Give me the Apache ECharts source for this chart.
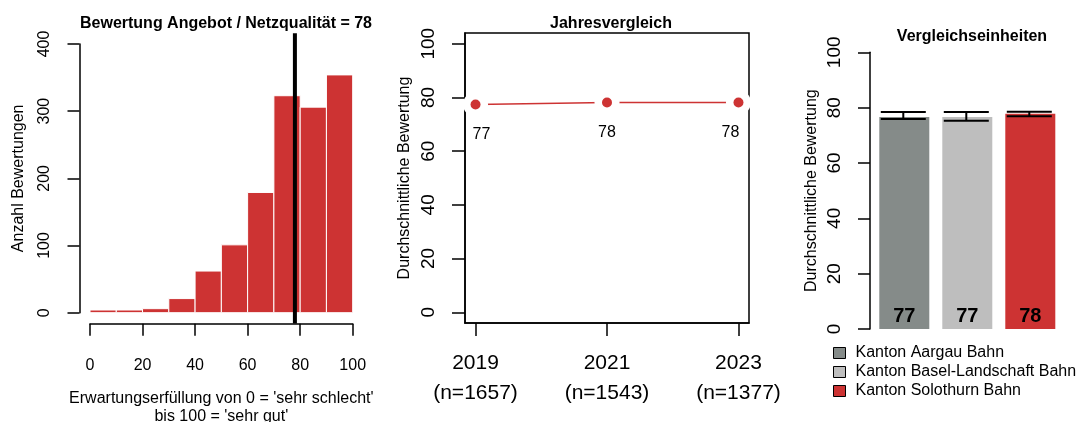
<!DOCTYPE html>
<html>
<head>
<meta charset="utf-8">
<script src="https://cdn.jsdelivr.net/npm/echarts@6/dist/echarts.min.js"></script>
<style>
    html, body { margin: 0; padding: 0; background: #ffffff; }
    #main { width: 1080px; height: 422px; }
</style>
</head>
<body>
<div id="main"></div>
<script>
// Histogramm: Klassen-Startwerte (Breite 10) und Anzahl
var binStarts = [0, 10, 20, 30, 40, 50, 60, 70, 80, 90];
var binCounts = [4, 4, 6, 21, 62, 101, 179, 323, 306, 354];
var meanScore = 78;

// Jahresvergleich
var years = ['2019', '2021', '2023'];
var yearN = [1657, 1543, 1377];
var yearMeans = [77.4, 78.1, 78.1];

// Vergleichseinheiten
var units = ['Kanton Aargau Bahn', 'Kanton Basel-Landschaft Bahn', 'Kanton Solothurn Bahn'];
var unitMeans = [76.6, 76.6, 77.8];
var unitLow = [75.9, 75.3, 76.9];
var unitHigh = [78.4, 78.4, 78.5];
var unitColors = ['#858b89', '#bebebe', '#cd3333'];

var red = '#cd3333';
var font = 'Liberation Sans, Arial, sans-serif';

var myChart = echarts.init(document.getElementById('main'));

// Histogramm-Daten [von, bis, anzahl]
var histData = binStarts.map(function (s, i) { return [s, s + 10, binCounts[i]]; });

// Balken je Einheit als eigene Serie (fuer die Legende)
var unitSeries = units.map(function (name, i) {
    return {
        name: name,
        type: 'bar',
        xAxisIndex: 2,
        yAxisIndex: 2,
        barWidth: 50,
        barGap: '-100%',
        itemStyle: { color: unitColors[i] },
        label: {
            show: true,
            position: 'insideBottom',
            distance: 3,
            color: '#000',
            fontFamily: font,
            fontWeight: 'bold',
            fontSize: 20,
            formatter: function (p) { return Math.round(p.value); }
        },
        data: units.map(function (u, j) { return j === i ? unitMeans[i] : '-'; })
    };
});

// Label-Verschiebung im Jahresvergleich (wie im Original)
var labelShift = [6, 0, -8];

let titleStyle = { fontSize: 16, fontWeight: 'bold', color: '#000', fontFamily: font };

let option = {
    backgroundColor: '#ffffff',
    animation: false,
    textStyle: { fontFamily: font },
    title: [
        { text: 'Bewertung Angebot / Netzqualität = ' + meanScore, left: 221, top: 11, textAlign: 'center', textStyle: titleStyle },
        { text: 'Jahresvergleich', left: 606, top: 11, textAlign: 'center', textStyle: titleStyle },
        { text: 'Vergleichseinheiten', left: 967, top: 24, textAlign: 'center', textStyle: titleStyle }
    ],
    legend: {
        orient: 'vertical',
        left: 828,
        top: 340,
        itemWidth: 12,
        itemHeight: 11,
        itemGap: 3,
        icon: 'rect',
        itemStyle: { borderColor: '#000', borderWidth: 1 },
        textStyle: { fontSize: 16, color: '#000', fontFamily: font, lineHeight: 16, padding: [0, 0, 0, 5] },
        data: units
    },
    grid: [
        { left: 90, top: 44, width: 262.7, height: 268.7, outerBoundsMode: 'none' },
        { left: 465, top: 33, width: 284, height: 290, show: true, borderColor: '#000', borderWidth: 1.5, outerBoundsMode: 'none' },
        { left: 872.8, top: 52.3, width: 189, height: 276.7, outerBoundsMode: 'none' }
    ],
    xAxis: [
        {
            gridIndex: 0, type: 'value', min: 0, max: 100, interval: 20, offset: 11,
            name: "Erwartungserfüllung von 0 = 'sehr schlecht'\nbis 100 = 'sehr gut'",
            nameLocation: 'middle', nameGap: 66,
            nameTextStyle: { fontSize: 16, color: '#000', lineHeight: 18 },
            axisLine: { onZero: false, lineStyle: { color: '#000', width: 1.5 } },
            axisTick: { length: 12, lineStyle: { color: '#000', width: 1.5 } },
            axisLabel: { fontSize: 16, color: '#000', margin: 34 },
            splitLine: { show: false }
        },
        {
            gridIndex: 1, type: 'value', min: 0.92, max: 3.08,
            axisLine: { onZero: false, lineStyle: { color: '#000', width: 1.5 } },
            axisTick: { length: 13, customValues: [1, 2, 3], lineStyle: { color: '#000', width: 1.5 } },
            axisLabel: {
                customValues: [1, 2, 3], fontSize: 21, color: '#000', margin: 25, lineHeight: 30,
                formatter: function (v) { var i = Math.round(v) - 1; return years[i] + '\n(n=' + yearN[i] + ')'; }
            },
            splitLine: { show: false }
        },
        {
            gridIndex: 2, type: 'category', data: units, show: false
        }
    ],
    yAxis: [
        {
            gridIndex: 0, type: 'value', min: 0, max: 400, interval: 100, offset: 10.5,
            name: 'Anzahl Bewertungen', nameLocation: 'middle', nameGap: 53,
            nameTextStyle: { fontSize: 16, color: '#000' },
            axisLine: { show: true, onZero: false, lineStyle: { color: '#000', width: 1.5 } },
            axisTick: { show: true, length: 12, lineStyle: { color: '#000', width: 1.5 } },
            axisLabel: { fontSize: 16, color: '#000', rotate: 90, margin: 27 },
            splitLine: { show: false }
        },
        {
            gridIndex: 1, type: 'value', min: -4, max: 104,
            name: 'Durchschnittliche Bewertung', nameLocation: 'middle', nameGap: 52,
            nameTextStyle: { fontSize: 16, color: '#000' },
            axisLine: { show: true, onZero: false, lineStyle: { color: '#000', width: 1.5 } },
            axisTick: { show: true, length: 13, customValues: [0, 20, 40, 60, 80, 100], lineStyle: { color: '#000', width: 1.5 } },
            axisLabel: { customValues: [0, 20, 40, 60, 80, 100], fontSize: 19, color: '#000', rotate: 90, margin: 27 },
            splitLine: { show: false }
        },
        {
            gridIndex: 2, type: 'value', min: 0, max: 100, interval: 20, offset: 2.8,
            name: 'Durchschnittliche Bewertung', nameLocation: 'middle', nameGap: 50,
            nameTextStyle: { fontSize: 16, color: '#000' },
            axisLine: { show: true, onZero: false, lineStyle: { color: '#000', width: 1.5 } },
            axisTick: { show: true, length: 12, lineStyle: { color: '#000', width: 1.5 } },
            axisLabel: { fontSize: 19, color: '#000', rotate: 90, margin: 26 },
            splitLine: { show: false }
        }
    ],
    series: [
        // Histogramm
        {
            type: 'custom',
            xAxisIndex: 0,
            yAxisIndex: 0,
            data: histData,
            renderItem: function (params, api) {
                var p0 = api.coord([api.value(0), 0]);
                var p1 = api.coord([api.value(1), api.value(2)]);
                return {
                    type: 'rect',
                    shape: { x: p0[0], y: p1[1], width: p1[0] - p0[0], height: p0[1] - p1[1] },
                    style: { fill: red, stroke: '#ffffff', lineWidth: 1 }
                };
            }
        },
        // Mittelwert-Linie
        {
            type: 'line',
            xAxisIndex: 0,
            yAxisIndex: 0,
            clip: false,
            symbol: 'none',
            lineStyle: { color: '#000', width: 4 },
            data: [[meanScore, -16], [meanScore, 416]],
            z: 5
        },
        // Jahresvergleich: Linie mit Luecken um die Punkte
        {
            type: 'line',
            xAxisIndex: 1,
            yAxisIndex: 1,
            symbol: 'circle',
            symbolSize: 25,
            itemStyle: { color: '#ffffff' },
            lineStyle: { color: red, width: 1.5 },
            data: yearMeans.map(function (v, i) { return [i + 1, v]; })
        },
        {
            type: 'scatter',
            xAxisIndex: 1,
            yAxisIndex: 1,
            symbolSize: 10,
            itemStyle: { color: red, opacity: 1 },
            z: 4,
            data: yearMeans.map(function (v, i) {
                return {
                    value: [i + 1, v],
                    label: { offset: [labelShift[i], 0] }
                };
            }),
            label: {
                show: true,
                position: 'bottom',
                distance: 17,
                fontSize: 16,
                color: '#000',
                fontFamily: font,
                formatter: function (p) { return Math.round(p.value[1]); }
            }
        }
    ].concat(unitSeries).concat([
        // Fehlerbalken
        {
            type: 'custom',
            xAxisIndex: 2,
            yAxisIndex: 2,
            z: 10,
            data: units.map(function (u, i) { return [i, unitLow[i], unitHigh[i]]; }),
            renderItem: function (params, api) {
                var lo = api.coord([api.value(0), api.value(1)]);
                var hi = api.coord([api.value(0), api.value(2)]);
                var x = lo[0] - 1;
                var hw = 22.5;
                var st = { stroke: '#000', lineWidth: 2 };
                return {
                    type: 'group',
                    children: [
                        { type: 'line', shape: { x1: x, y1: lo[1], x2: x, y2: hi[1] }, style: st },
                        { type: 'line', shape: { x1: x - hw, y1: lo[1], x2: x + hw, y2: lo[1] }, style: st },
                        { type: 'line', shape: { x1: x - hw, y1: hi[1], x2: x + hw, y2: hi[1] }, style: st }
                    ]
                };
            }
        }
    ])
};

myChart.setOption(option);
</script>
</body>
</html>
